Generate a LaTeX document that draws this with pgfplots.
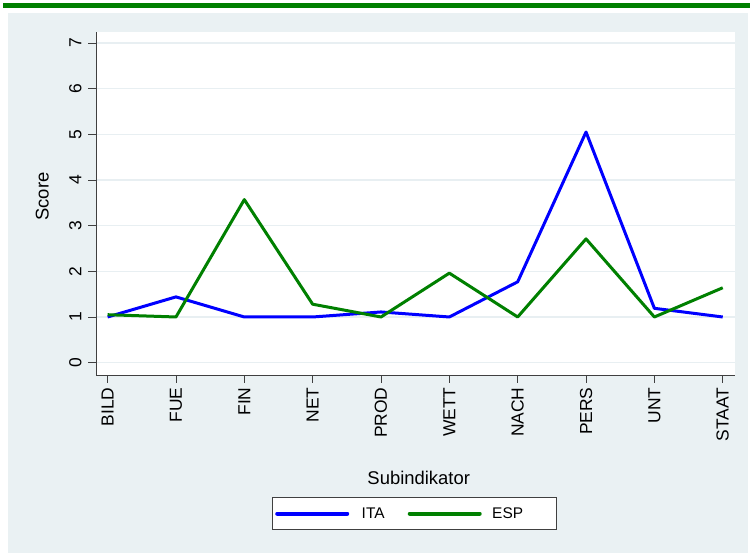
\documentclass[border=0pt]{standalone}
\usepackage{pgfplots}
\pgfplotsset{compat=1.18}
\usepackage{fontspec}
\setmainfont{Liberation Sans}
\definecolor{bgc}{HTML}{EAF1F3}
\definecolor{gridc}{HTML}{E8EFF2}
\definecolor{stgreen}{HTML}{008000}
\definecolor{stblue}{HTML}{0000FF}
\definecolor{axc}{HTML}{404040}

\pgfplotstableread{
idx ita esp
0 1.00 1.05
1 1.44 1.00
2 1.00 3.57
3 1.00 1.28
4 1.11 1.00
5 1.00 1.96
6 1.77 1.00
7 5.05 2.71
8 1.19 1.00
9 1.00 1.64
}\scores

\begin{document}
\begin{tikzpicture}[x=1bp,y=1bp]
\path[use as bounding box] (0,0) rectangle (750,556);
\fill[bgc] (8,3) rectangle (748,543);
\fill[stgreen] (3,548) rectangle (750,553);
\begin{axis}[
  at={(96bp,181bp)}, anchor=south west,
  scale only axis, width=639bp, height=343bp,
  xmin=-0.17, xmax=9.18, ymin=-0.27, ymax=7.24,
  axis lines*=left,
  axis line style={axc, line width=0.8bp},
  axis background/.style={fill=white},
  xtick={0,...,9},
  xticklabels={BILD,FUE,FIN,NET,PROD,WETT,NACH,PERS,UNT,STAAT},
  ytick={0,...,7},
  tick align=outside,
  major tick length=8bp,
  tick style={axc, line width=0.8bp},
  ymajorgrids,
  grid style={gridc, line width=1.2bp},
  /pgf/number format/assume math mode=true,
  tick label style={font=\fontsize{17.5}{20}\selectfont},
  x tick label style={rotate=90, anchor=east, xshift=-1bp},
  y tick label style={rotate=90, anchor=south},
  yticklabel shift=3bp,
  xlabel={Subindikator},
  ylabel={Score},
  label style={font=\fontsize{18.5}{22}\selectfont},
  x label style={at={(axis description cs:0.505,0)}, anchor=center, yshift=-103bp},
  y label style={at={(axis description cs:-0.084,0.52)}, anchor=center},
  legend columns=2,
  legend style={at={(axis description cs:0.498,0)}, anchor=north, yshift=-122bp,
    draw=axc, fill=white, line width=0.8bp, inner xsep=3bp, inner ysep=5bp,
    font=\fontsize{15.5}{18}\selectfont,
    nodes={inner xsep=6.5bp, inner ysep=5bp},
    /tikz/every even column/.append style={column sep=5bp}},
  legend image code/.code={\draw[#1, line width=4bp, line cap=round] (0bp,0bp) -- (70bp,0bp);},
]
\addplot[stblue, line width=3bp, line join=round] table[x=idx, y=ita] {\scores};
\addplot[stgreen, line width=3bp, line join=round] table[x=idx, y=esp] {\scores};
\legend{\makebox[40.5bp][l]{\hspace*{6bp}ITA}, \makebox[58.5bp][l]{\hspace*{4bp}ESP}}
\end{axis}
\end{tikzpicture}
\end{document}
